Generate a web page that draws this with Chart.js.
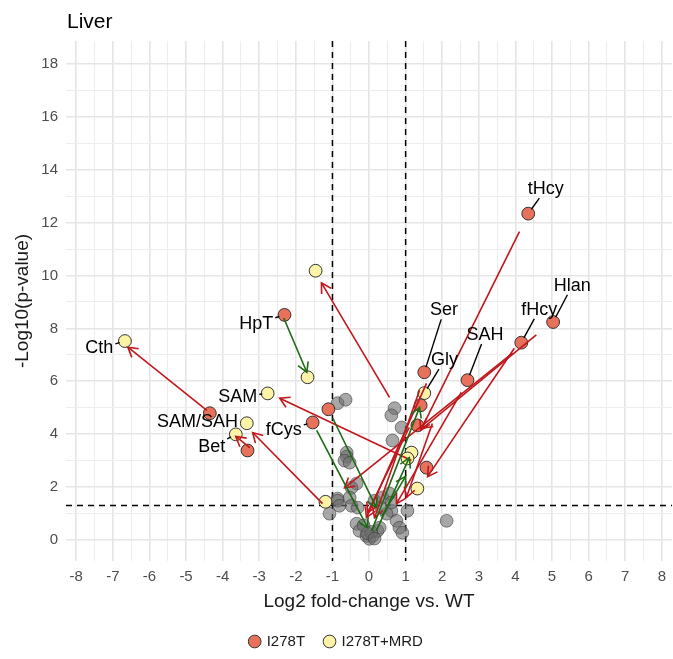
<!DOCTYPE html>
<html>
<head>
<meta charset="utf-8">
<script src="https://cdn.jsdelivr.net/npm/chart.js@4.4.0/dist/chart.umd.min.js"></script>
<style>
  html, body { margin: 0; padding: 0; background: #fff; }
</style>
</head>
<body>
<canvas id="volcanoChart" width="673" height="659"></canvas>
<script>
/* ==========================================
   Liver volcano plot: I278T vs I278T+MRD
========================================== */

// not significant metabolites
const grayX = [-0.86, -0.64, 0.70, 0.61, 0.89, 0.64, -0.61, -0.61, -0.67, -0.53,
  -0.34, -0.48, -0.86, -0.53, -1.08, -0.86, -0.81, -0.48, -0.34, -0.26,
  -0.07, 0.01, 0.10, 0.23, 0.29, 0.06, 0.37, 0.56, 0.61, 0.75,
  0.83, 1.05, 0.91, 0.48, 0.61, 0.15, -0.31, 2.12, -0.15, 0.33, -0.05, 0.15];
const grayY = [5.17, 5.30, 4.98, 4.71, 4.25, 3.76, 3.30, 3.15, 3.00, 2.92,
  2.13, 1.97, 1.56, 1.60, 0.99, 1.48, 1.29, 1.29, 0.61, 0.34,
  0.15, 0.04, 0.15, 0.34, 0.46, 0.30, 1.60, 1.75, 1.10, 0.72,
  0.46, 1.10, 0.27, 0.99, 1.41, 1.48, 1.22, 0.72, 0.55, 1.22, 0.25, 0.05];

// I278T
const i278tX = [-2.31, -4.35, -3.32, -1.54, -1.11, 4.35, 5.03, 4.16, 2.69, 1.51, 1.41, 1.32, 1.57];
const i278tY = [8.51, 4.79, 3.38, 4.44, 4.94, 12.34, 8.24, 7.46, 6.04, 6.34, 5.09, 4.33, 2.73];

// I278T+MRD
const mrdX = [-6.67, -2.77, -3.34, -3.64, -1.68, -1.46, -1.19, 1.51, 1.16, 1.05, 1.32];
const mrdY = [7.52, 5.54, 4.41, 3.99, 6.15, 10.18, 1.44, 5.55, 3.30, 3.08, 1.94];

// shift arrows (I278T -> I278T+MRD)
const arrowFromX = [-4.43, 1.16, 0.56, -1.27, -3.26, 4.11, 4.57, 3.97, 3.92, 2.52, 1.57, 1.38, 1.10, 1.73,
  -2.33, -0.99, -1.43, 0.07, 0.20, 0.35];
const arrowFromY = [4.90, 3.00, 5.39, 1.37, 3.49, 11.66, 7.75, 7.25, 7.06, 5.58, 5.92, 5.66, 4.25, 4.40,
  8.39, 4.60, 4.14, 0.34, 0.34, 0.90];
const arrowToX = [-6.59, -2.44, -1.30, -3.18, -3.64, 1.41, 1.46, 1.60, -0.67, 0.75, -0.07, 0.15, -0.04, 1.02,
  -1.70, 0.20, -0.04, 1.38, 1.10, 1.00];
const arrowToY = [7.29, 5.36, 9.72, 4.06, 3.91, 4.14, 4.22, 2.39, 1.97, 1.37, 0.84, 0.84, 1.03, 1.60,
  6.34, 1.22, 0.46, 5.01, 3.11, 2.40];
const arrowImproved = [false, false, false, false, false, false, false, false, false, false, false, false, false, false,
  true, true, true, true, true, true];

// labelled metabolites
const labelText = ["Cth", "HpT", "SAM", "SAM/SAH", "Bet", "fCys", "tHcy", "Hlan", "fHcy", "SAH", "Ser", "Gly"];
const labelX = [-7.37, -3.08, -3.59, -4.69, -4.30, -2.33, 4.83, 5.55, 4.65, 3.17, 2.05, 2.06];
const labelY = [7.24, 8.18, 5.41, 4.46, 3.51, 4.14, 13.27, 9.61, 8.70, 7.75, 8.68, 6.80];
const labelPointX = [-6.67, -2.31, -2.77, -3.34, -3.64, -1.54, 4.35, 5.03, 4.16, 2.69, 1.51, 1.51];
const labelPointY = [7.52, 8.51, 5.54, 4.41, 3.99, 4.44, 12.34, 8.24, 7.46, 6.04, 6.34, 5.55];

const fcCutoff = [-1, 1];
const pCutoff = -Math.log10(0.05);

const FONT = "'Liberation Sans', Arial, Helvetica, sans-serif";
const POINT_R = 6.4;

function toXY(xs, ys) {
  return xs.map((x, i) => ({ x: x, y: ys[i] }));
}

function drawArrow(ctx, x0, y0, x1, y1, color) {
  const a = Math.atan2(y1 - y0, x1 - x0);
  const len = 11;
  const spread = Math.PI / 6;
  ctx.strokeStyle = color;
  ctx.lineWidth = 1.6;
  ctx.beginPath();
  ctx.moveTo(x0, y0);
  ctx.lineTo(x1, y1);
  ctx.stroke();
  ctx.beginPath();
  ctx.moveTo(x1 - len * Math.cos(a - spread), y1 - len * Math.sin(a - spread));
  ctx.lineTo(x1, y1);
  ctx.lineTo(x1 - len * Math.cos(a + spread), y1 - len * Math.sin(a + spread));
  ctx.stroke();
}

const volcanoExtras = {
  id: "volcanoExtras",
  beforeDatasetsDraw(chart) {
    const { ctx, chartArea, scales } = chart;
    ctx.save();
    ctx.strokeStyle = "#000";
    ctx.lineWidth = 1.5;
    ctx.setLineDash([6, 5]);
    fcCutoff.forEach(v => {
      const px = scales.x.getPixelForValue(v);
      ctx.beginPath();
      ctx.moveTo(px, chartArea.top);
      ctx.lineTo(px, chartArea.bottom);
      ctx.stroke();
    });
    const py = scales.y.getPixelForValue(pCutoff);
    ctx.beginPath();
    ctx.moveTo(chartArea.left, py);
    ctx.lineTo(chartArea.right, py);
    ctx.stroke();
    ctx.restore();
  },
  afterDatasetsDraw(chart) {
    const { ctx, chartArea, scales } = chart;
    const sx = scales.x, sy = scales.y;
    ctx.save();

    // arrows
    arrowFromX.forEach((x0, i) => {
      drawArrow(ctx,
        sx.getPixelForValue(x0), sy.getPixelForValue(arrowFromY[i]),
        sx.getPixelForValue(arrowToX[i]), sy.getPixelForValue(arrowToY[i]),
        arrowImproved[i] ? "#1E6B14" : "#C0161C");
    });

    // labels + leader segments
    ctx.font = "18px " + FONT;
    ctx.textAlign = "center";
    ctx.textBaseline = "middle";
    labelText.forEach((txt, i) => {
      const tx = sx.getPixelForValue(labelX[i]);
      const ty = sy.getPixelForValue(labelY[i]);
      const px = sx.getPixelForValue(labelPointX[i]);
      const py = sy.getPixelForValue(labelPointY[i]);
      const hw = ctx.measureText(txt).width / 2 + 2;
      const hh = 9;
      const dx = px - tx, dy = py - ty;
      const t = Math.min(hw / Math.max(Math.abs(dx), 1e-6), hh / Math.max(Math.abs(dy), 1e-6));
      const ax = tx + dx * t, ay = ty + dy * t;
      const d = Math.hypot(px - ax, py - ay);
      if (d > POINT_R + 1) {
        ctx.strokeStyle = "#000";
        ctx.lineWidth = 1.4;
        ctx.beginPath();
        ctx.moveTo(ax, ay);
        ctx.lineTo(px - (px - ax) / d * (POINT_R - 1), py - (py - ay) / d * (POINT_R - 1));
        ctx.stroke();
      }
      ctx.fillStyle = "#000";
      ctx.fillText(txt, tx, ty);
    });

    // panel title
    ctx.font = "21px " + FONT;
    ctx.textAlign = "left";
    ctx.textBaseline = "alphabetic";
    ctx.fillStyle = "#000";
    ctx.fillText("Liver", chartArea.left + 1, 28);
    ctx.restore();
  }
};

Chart.defaults.font.family = FONT;
Chart.defaults.color = "#1a1a1a";

new Chart(document.getElementById("volcanoChart"), {
  type: "scatter",
  data: {
    datasets: [
      {
        label: "I278T",
        data: toXY(i278tX, i278tY),
        backgroundColor: "#E8715C",
        borderColor: "#333333",
        borderWidth: 1,
        pointRadius: POINT_R,
        pointHoverRadius: POINT_R
      },
      {
        label: "I278T+MRD",
        data: toXY(mrdX, mrdY),
        backgroundColor: "#FDF3A6",
        borderColor: "#333333",
        borderWidth: 1,
        pointRadius: POINT_R,
        pointHoverRadius: POINT_R
      },
      {
        label: "n.s.",
        data: toXY(grayX, grayY),
        backgroundColor: "rgba(110,110,110,0.6)",
        borderColor: "rgba(60,60,60,0.6)",
        borderWidth: 1,
        pointRadius: POINT_R,
        pointHoverRadius: POINT_R
      }
    ]
  },
  options: {
    responsive: false,
    animation: false,
    layout: {
      autoPadding: false,
      padding: { top: 41, right: 0, bottom: 0, left: 0 }
    },
    plugins: {
      tooltip: { enabled: false },
      legend: {
        position: "bottom",
        labels: {
          usePointStyle: true,
          pointStyle: "circle",
          boxWidth: 9,
          boxHeight: 9,
          padding: 20,
          font: { size: 15 },
          color: "#1a1a1a",
          filter: item => item.datasetIndex < 2
        }
      }
    },
    scales: {
      x: {
        type: "linear",
        min: -8.28,
        max: 8.28,
        border: { display: false },
        grid: {
          color: c => Number.isInteger(c.tick.value) ? "#E5E5E5" : "#EDEDED",
          lineWidth: c => Number.isInteger(c.tick.value) ? 1.6 : 1.0,
          drawTicks: false
        },
        ticks: {
          stepSize: 0.5,
          autoSkip: false,
          maxRotation: 0,
          includeBounds: false,
          padding: 7,
          color: "#4D4D4D",
          font: { size: 15 },
          callback: v => Number.isInteger(v) ? String(v) : ""
        },
        title: {
          display: true,
          text: "Log2 fold-change vs. WT",
          color: "#1a1a1a",
          font: { size: 19 },
          padding: { top: 4, bottom: 1 }
        },
        afterFit: s => { s.height = 53; }
      },
      y: {
        type: "linear",
        min: -0.8,
        max: 18.87,
        border: { display: false },
        grid: {
          color: c => c.tick.value % 2 === 0 ? "#E5E5E5" : "#EDEDED",
          lineWidth: c => c.tick.value % 2 === 0 ? 1.6 : 1.0,
          drawTicks: false
        },
        ticks: {
          stepSize: 1,
          autoSkip: false,
          includeBounds: false,
          padding: 8,
          color: "#4D4D4D",
          font: { size: 15 },
          callback: v => v % 2 === 0 ? String(v) : ""
        },
        title: {
          display: true,
          text: "-Log10(p-value)",
          color: "#1a1a1a",
          font: { size: 19 },
          padding: { top: 11, bottom: 0 }
        },
        afterFit: s => { s.width = 66; }
      }
    }
  },
  plugins: [volcanoExtras]
});
</script>
</body>
</html>
